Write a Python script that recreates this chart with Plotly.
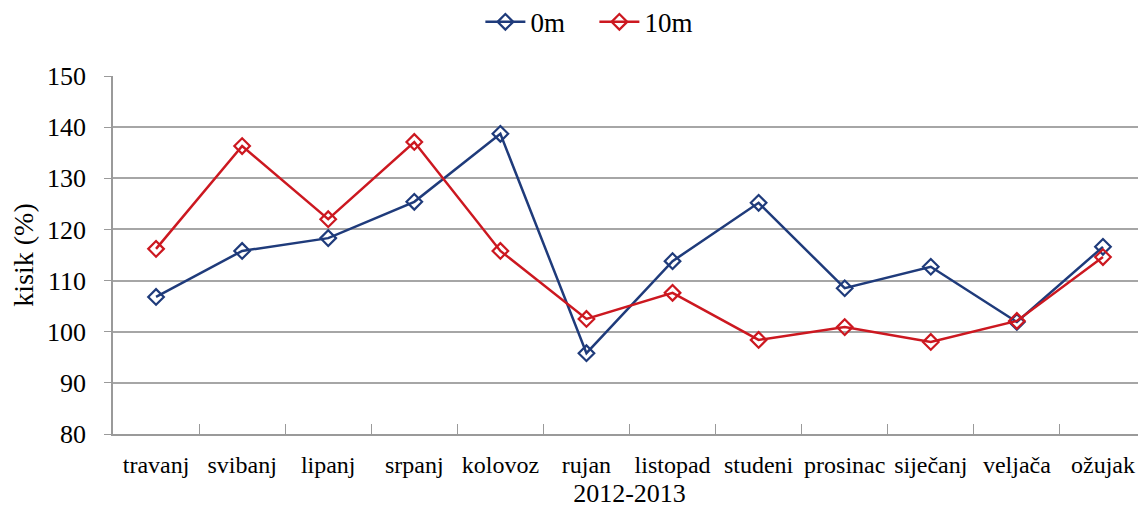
import plotly.graph_objects as go

months = ["travanj", "svibanj", "lipanj", "srpanj", "kolovoz", "rujan", "listopad",
          "studeni", "prosinac", "siječanj", "veljača", "ožujak"]
s0m = [106.8, 115.8, 118.3, 125.4, 138.7, 95.8, 113.8, 125.2, 108.5, 112.7, 101.9, 116.6]
s10m = [116.2, 136.3, 122.0, 137.1, 115.8, 102.5, 107.6, 98.4, 100.9, 98.0, 102.1, 114.6]
yticks = [80, 90, 100, 110, 120, 130, 140, 150]

blue = "#1F3B7B"
red = "#CC1820"
font = "Liberation Serif"

fig = go.Figure()
fig.add_trace(go.Scatter(x=months, y=s0m, name="0m", mode="lines+markers",
                         line=dict(color=blue, width=2.5),
                         marker=dict(symbol="diamond-open", size=12, color=blue, line=dict(width=2.2))))
fig.add_trace(go.Scatter(x=months, y=s10m, name="10m", mode="lines+markers",
                         line=dict(color=red, width=2.5),
                         marker=dict(symbol="diamond-open", size=12, color=red, line=dict(width=2.2))))

fig.update_layout(
    width=1138, height=500,
    margin=dict(l=105, r=0, t=68, b=74, autoexpand=False),
    paper_bgcolor="white", plot_bgcolor="white",
    font=dict(family=font, color="black", size=24),
    showlegend=True,
    legend=dict(orientation="h", x=0.466, xanchor="center", y=1.15, yanchor="middle",
                font=dict(size=27), itemwidth=40, entrywidth=59, bgcolor="rgba(0,0,0,0)"),
    xaxis=dict(type="category", showgrid=False, showline=True, linecolor="#9a9a9a", linewidth=1.5,
               ticks="inside", tickson="boundaries", ticklen=10, tickcolor="#9a9a9a",
               tickfont=dict(size=24), tickangle=0, ticklabelstandoff=8, automargin=False,
               title=dict(text="2012-2013", font=dict(size=26), standoff=15),
               range=[-0.5, 11.5]),
    yaxis=dict(range=[80, 150], tickvals=yticks, showgrid=True, gridcolor="#a6a6a6", gridwidth=1.5,
               showline=True, linecolor="#9a9a9a", linewidth=1.5, ticks="outside", ticklen=7,
               tickcolor="#9a9a9a", tickfont=dict(size=26), ticklabelstandoff=13,
               automargin=False,
               title=dict(text="kisik (%)", font=dict(size=28), standoff=9),
               zeroline=False),
)

fig.write_html("out.html")
